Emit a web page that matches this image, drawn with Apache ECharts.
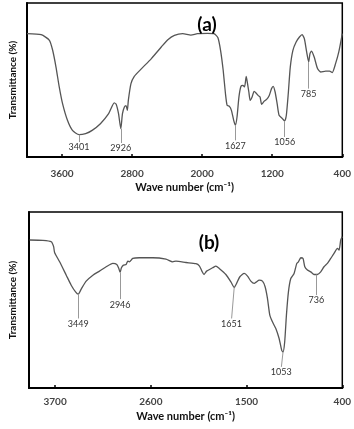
<!DOCTYPE html>
<html><head><meta charset="utf-8">
<script src="https://cdn.jsdelivr.net/npm/echarts@6/dist/echarts.min.js"></script>
<style>html,body{margin:0;padding:0;background:#fff}#c{width:354px;height:429px}</style>
</head><body><div id="c"></div>
<script>
// Panel (a) spectrum
const waveA = [4000,3838,3744,3707,3669,3632,3594,3538,3481,3406,3331,3256,3162,3068,3004,2982,2955,2929,2910,2888,2869,2854,2843,2813,2775,2692,2580,2467,2392,2317,2222,2129,2054,1940,1866,1820,1790,1760,1734,1715,1689,1666,1640,1621,1602,1580,1557,1535,1516,1497,1482,1467,1452,1430,1407,1385,1362,1339,1321,1294,1264,1234,1208,1189,1167,1144,1122,1084,1058,1039,1017,994,964,927,889,859,833,807,784,769,751,721,683,646,590,545,515,477,440,400];
const transA = [80.1,79.4,75.8,69.3,58.4,45.5,34.6,23.8,17.3,14.5,15.2,17.3,21.6,28.1,35.1,34.2,28.1,18.4,28.1,32.5,33.3,30.3,36.8,47.6,52.4,57.4,63.9,71.4,76.2,79.0,80.1,79.2,80.1,80.3,80.1,77.5,69.3,56.3,41.1,33.5,32.9,30.3,23.8,20.6,26.0,39.0,45.9,46.5,45.5,52.4,47.6,42.2,36.8,39.0,42.6,41.6,40.0,39.0,34.2,36.1,37.4,40.0,44.4,45.9,42.2,34.6,27.1,24.9,23.4,27.1,41.1,58.4,69.3,74.7,77.9,79.4,76.8,68.2,61.7,67.1,68.8,64.9,57.4,55.2,55.8,55.8,54.8,60.6,68.2,80.1];
// Panel (a) peak annotations
const peakLabelsA = ['3401','2926','1627','1056','785'];
const peakWaveA = [3406,2929,1621,1058,784];
const peakTopA = [14.5,18.4,20.6,23.4,61.7];
const peakEndA = [9.7,9.1,10.8,13.0,44.4];

// Panel (b) spectrum
const waveB = [3992,3840,3744,3717,3706,3648,3572,3515,3465,3435,3400,3343,3266,3190,3113,3037,2991,2968,2953,2938,2915,2884,2865,2846,2808,2732,2578,2426,2349,2311,2196,2082,2043,2013,1989,1959,1890,1852,1814,1738,1680,1642,1615,1577,1527,1489,1451,1412,1386,1355,1317,1287,1260,1233,1203,1164,1126,1096,1081,1062,1042,1019,992,954,923,904,877,851,831,801,763,724,686,648,610,571,533,495,456,437,418,400];
const transB = [84.1,83.9,83.1,80.3,77.0,71.7,64.1,58.4,54.6,53.3,56.2,60.7,64.1,66.4,68.9,70.8,70.2,67.9,65.7,68.3,69.8,70.2,72.1,71.7,73.6,74.0,74.0,73.2,71.7,72.1,71.3,70.6,69.4,66.4,64.5,66.4,68.3,69.3,67.9,64.5,60.3,57.1,59.4,63.2,65.1,63.6,60.7,59.4,60.3,61.3,60.7,57.5,50.9,41.4,37.6,33.8,28.1,21.4,20.5,26.2,41.4,54.6,62.2,65.1,70.8,71.7,74.0,73.6,68.9,67.0,66.0,64.5,64.5,66.0,68.9,70.8,73.6,76.5,79.3,78.4,84.1,86.0];
// Panel (b) peak annotations
const peakLabelsB = ['3449','2946','1651','1053','736'];
const peakWaveB = [3434,2953,1642,1081,698];
const peakTopB = [53.3,65.7,57.1,20.5,64.5];
const peakEndWaveB = [3434,2953,1672,1100,698];
const peakEndB = [39.5,50.5,39.5,12.0,52.8];

const ticksA = [3600,2800,2000,1200,400];
const ticksB = [3700,2600,1500,400];

const FONT = 'Lato';
function xAxisFor(idx, interval, ticks, margin, gap){
  return {
    type:'value', gridIndex:idx, inverse:true, min:400, max:4000, interval:interval,
    name:'Wave number (cm\u207B\u00B9)', nameLocation:'middle', nameGap:gap,
    nameTextStyle:{fontFamily:FONT,fontSize:11,fontWeight:'bold',color:'#111'},
    axisLine:{show:true,onZero:false,lineStyle:{color:'#000',width:2}},
    axisTick:{show:true,inside:true,length:3,lineStyle:{color:'#000',width:1.5},
      customValues: ticks},
    axisLabel:{margin:margin,fontFamily:FONT,fontSize:10,color:'#444',fontWeight:'bold',
      customValues: ticks,
      formatter:v=> ticks.indexOf(v)>=0 ? String(v) : ''},
    splitLine:{show:false}
  };
}
function yAxisFor(idx, gap){
  return {
    type:'value', gridIndex:idx, min:0, max:100,
    name:'Transmittance (%)', nameLocation:'middle', nameGap:gap, nameRotate:90,
    nameTextStyle:{fontFamily:FONT,fontSize:10,fontWeight:'bold',color:'#111'},
    axisLine:{show:true,lineStyle:{color:'#000',width:2}},
    axisTick:{show:false}, axisLabel:{show:false}, splitLine:{show:false}
  };
}
function marks(labels, wave, top, endWave, end){
  return labels.map((l,i)=>[
    {name:l, coord:[wave[i], top[i]]},
    {coord:[endWave[i], end[i]]}
  ]);
}
function spectrum(idx, wave, trans, ml){
  return {
    type:'line', xAxisIndex:idx, yAxisIndex:idx, showSymbol:false, smooth:0.2,
    data: wave.map((w,i)=>[w, trans[i]]),
    lineStyle:{color:'#555',width:1.3}, animation:false,
    markLine:{
      silent:true, symbol:['none','none'], animation:false,
      lineStyle:{color:'#999',width:1,type:'solid'},
      label:{show:true,position:'end',distance:1,formatter:p=>p.name,
        fontFamily:FONT,fontSize:9,color:'#333'},
      data: ml
    }
  };
}

const chart = echarts.init(document.getElementById('c'));
chart.setOption({
  backgroundColor:'#fff',
  animation:false,
  title:[
    {text:'(a)', left:202, top:20, textAlign:'center', textVerticalAlign:'middle',
      textStyle:{fontFamily:FONT,fontSize:19,fontWeight:'bold',color:'#000'}},
    {text:'(b)', left:204, top:238, textAlign:'center', textVerticalAlign:'middle',
      textStyle:{fontFamily:FONT,fontSize:19,fontWeight:'bold',color:'#000'}}
  ],
  grid:[
    {left:24, right:11, top:3, height:154, show:true, borderColor:'#000', borderWidth:1.5},
    {left:29, right:11, top:212, height:176, show:true, borderColor:'#000', borderWidth:1.5}
  ],
  xAxis:[ xAxisFor(0,800,ticksA,12,25), xAxisFor(1,1100,ticksB,9,23) ],
  yAxis:[ yAxisFor(0,9), yAxisFor(1,11) ],
  series:[
    spectrum(0, waveA, transA, marks(peakLabelsA, peakWaveA, peakTopA, peakWaveA, peakEndA)),
    spectrum(1, waveB, transB, marks(peakLabelsB, peakWaveB, peakTopB, peakEndWaveB, peakEndB))
  ]
});
</script></body></html>
